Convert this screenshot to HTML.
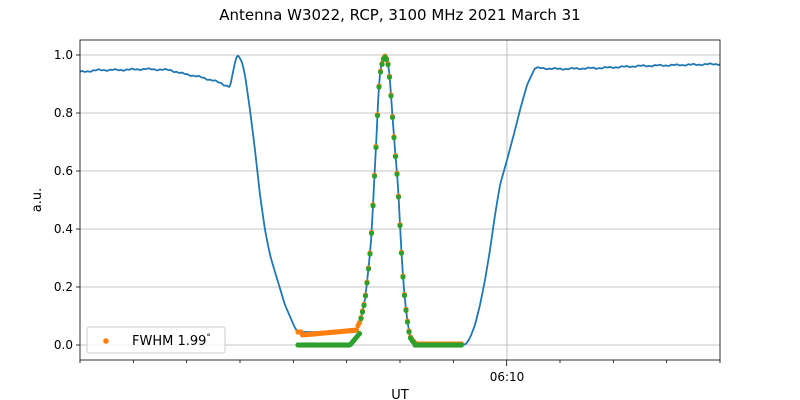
<!DOCTYPE html>
<html><head><meta charset="utf-8"><style>
body{margin:0;background:#fff;}
svg{display:block;font-family:"DejaVu Sans","Liberation Sans",sans-serif;}
</style></head><body>
<svg id="s" width="800" height="400" xmlns="http://www.w3.org/2000/svg">
<rect width="800" height="400" fill="#fff"/>
<text x="400" y="20" font-size="15" text-anchor="middle">Antenna W3022, RCP, 3100 MHz 2021 March 31</text>
<g stroke="#b0b0b0" stroke-width="0.8">
<line x1="80" x2="720" y1="55" y2="55"/><line x1="80" x2="720" y1="113" y2="113"/>
<line x1="80" x2="720" y1="171" y2="171"/><line x1="80" x2="720" y1="229" y2="229"/>
<line x1="80" x2="720" y1="287" y2="287"/><line x1="80" x2="720" y1="345" y2="345"/>
<line x1="507" x2="507" y1="40" y2="360"/>
</g>
<g font-size="12" text-anchor="end">
<text x="73" y="59">1.0</text><text x="73" y="117">0.8</text><text x="73" y="175">0.6</text>
<text x="73" y="233">0.4</text><text x="73" y="291">0.2</text><text x="73" y="349">0.0</text>
</g>
<g stroke="#000" stroke-width="0.8" id="ticks">
<line x1="76" x2="80" y1="55" y2="55"/><line x1="76" x2="80" y1="113" y2="113"/>
<line x1="76" x2="80" y1="171" y2="171"/><line x1="76" x2="80" y1="229" y2="229"/>
<line x1="76" x2="80" y1="287" y2="287"/><line x1="76" x2="80" y1="345" y2="345"/>
</g>
<text x="507" y="381" font-size="12" text-anchor="middle">06:10</text>
<text x="400" y="399" font-size="13" text-anchor="middle">UT</text>
<text x="41" y="200" font-size="13" text-anchor="middle" transform="rotate(-90 41 200)">a.u.</text>
<g id="plot"></g>
<rect x="80" y="40" width="640" height="320" fill="none" stroke="#000" stroke-width="0.8"/>
<rect x="87" y="327" width="138" height="26" fill="#fff" fill-opacity="0.8" stroke="#ccc" rx="2"/>
<circle cx="106" cy="341" r="2.8" fill="#ff7f0e"/>
<text x="132" y="345" font-size="13">FWHM 1.99<tspan font-size="9" dy="-5">°</tspan></text>
</svg>
<script>
var ns="http://www.w3.org/2000/svg",s=document.getElementById("s"),p=document.getElementById("plot"),tk=document.getElementById("ticks");
for(var i=0;i<=12;i++){var x=80+i*640/12,l=document.createElementNS(ns,"line");l.setAttribute("x1",x);l.setAttribute("x2",x);l.setAttribute("y1",360);l.setAttribute("y2",i==8?366:363);tk.appendChild(l);}
var B=[[80,72],[100,70],[120,70],[145,69],[170,70],[180,73],[200,77],[215,81],[230,87],[233,72],[236,58],[238,55],[242,62],[245,75],[250,110],[255,150],[260,195],[265,230],[270,255],[275,272],[285,305],[295,328],[298,332],[330,332],[355,331],[360,322],[365,300],[368,273],[371,243],[373,205],[375,165],[377,128],[378,100],[380,72],[383,59],[385,55],[388,62],[390,80],[392,110],[395,150],[398,185],[400,225],[402,262],[404,290],[406,310],[408,325],[410,337],[415,343],[420,345],[462,345],[466,344],[470,338],[475,325],[480,305],[485,280],[490,250],[495,215],[500,185],[507,160],[515,130],[520,110],[527,85],[535,68],[560,69],[600,68],[640,66],[680,65],[720,64]];
function lin(x){for(var i=1;i<B.length;i++)if(x<=B[i][0]){var a=B[i-1],b=B[i];return a[1]+(b[1]-a[1])*(x-a[0])/(b[0]-a[0]);}return 64;}
function by(x){return (lin(x-1)+lin(x)*2+lin(x+1))/4;}
var pts=[];for(var x=80;x<=720;x+=1){var n=(x<230||x>535)?(Math.sin(x*0.37)*0.5+Math.sin(x*1.13)*0.4):0;pts.push(x+","+(by(x)+n).toFixed(1));}
var pl=document.createElementNS(ns,"polyline");pl.setAttribute("points",pts.join(" "));pl.setAttribute("fill","none");pl.setAttribute("stroke","#1f77b4");pl.setAttribute("stroke-width","1.8");pl.setAttribute("stroke-linejoin","round");p.appendChild(pl);
function dot(x,y,c){var e=document.createElementNS(ns,"circle");e.setAttribute("cx",x);e.setAttribute("cy",y);e.setAttribute("r",2.6);e.setAttribute("fill",c);p.appendChild(e);}
for(var x=298;x<=462;x+=1.5){var y;if(x<302)y=332;else if(x<358)y=335-(x-302)*0.09;else if(x<415)y=by(x);else y=Math.min(by(x),344);dot(x,y,"#ff7f0e");}
for(var x=298;x<=462;x+=1.5){var y;if(x<350)y=345;else if(x<=360)y=345-(x-350)*1.2;else if(x<415)y=by(x)+1;else y=345;dot(x,Math.min(y,345),"#2ca02c");}
</script>
</body></html>
